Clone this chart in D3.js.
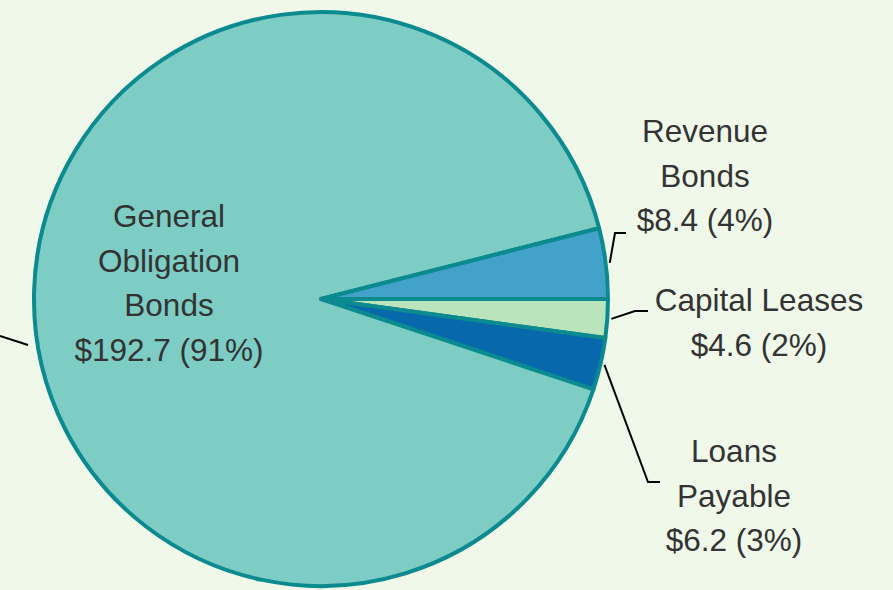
<!DOCTYPE html>
<html>
<head>
<meta charset="utf-8">
<script src="https://cdn.jsdelivr.net/npm/d3@7"></script>
<style>
  html, body { margin: 0; padding: 0; background: #f0f8ea; }
  svg { display: block; }
  text { font-family: "Liberation Sans", Arial, sans-serif; fill: #333333; }
</style>
</head>
<body>
<svg id="chart" width="893" height="590"></svg>
<script>
// ---- data ----
const categories = ["Capital Leases", "Loans Payable", "General Obligation Bonds", "Revenue Bonds"];
const values = [4.6, 6.2, 192.7, 8.4];
const percents = ["2%", "3%", "91%", "4%"];
const labelLines = [
  ["Capital Leases"],
  ["Loans", "Payable"],
  ["General", "Obligation", "Bonds"],
  ["Revenue", "Bonds"]
];
const colors = ["#bae4bc", "#0868ac", "#7dcdc5", "#43a2ca"];

// ---- layout (not data) ----
const W = 893, H = 590;
const cx = 321, cy = 299, R = 287;
// label anchor (center x, first baseline y) and leader elbow points
const labelLayout = [
  { x: 759, y: 311, elbow: [635, 311], end: [648, 311] },
  { x: 734, y: 462, elbow: [648, 482], end: [660, 482] },
  { x: 169, y: 227, elbow: null, end: null },
  { x: 705, y: 142, elbow: [615, 233], end: [626, 233] }
];

const svg = d3.select("#chart");
const g = svg.append("g").attr("transform", `translate(${cx},${cy})`);

const pie = d3.pie().sort(null).value(d => d)
  .startAngle(Math.PI / 2).endAngle(Math.PI / 2 + 2 * Math.PI);
const arcs = pie(values);
const arc = d3.arc().innerRadius(0).outerRadius(R);

g.selectAll("path.slice").data(arcs).enter().append("path")
  .attr("class", "slice")
  .attr("d", arc)
  .attr("fill", (d, i) => colors[i])
  .attr("stroke", "#0b8b8f")
  .attr("stroke-width", 4)
  .attr("stroke-linejoin", "round");

// leader lines
arcs.forEach((a, i) => {
  const L = labelLayout[i];
  if (!L.elbow) return;
  const mid = (a.startAngle + a.endAngle) / 2;
  const r2 = R + 4;
  const sx = cx + r2 * Math.sin(mid), sy = cy - r2 * Math.cos(mid);
  svg.append("polyline")
    .attr("points", [[sx, sy], L.elbow, L.end].map(p => p.join(",")).join(" "))
    .attr("fill", "none").attr("stroke", "#000").attr("stroke-width", 2);
});

// stray leader at left edge (from a cropped label)
svg.append("line").attr("x1", 0).attr("y1", 336).attr("x2", 28).attr("y2", 345)
  .attr("stroke", "#000").attr("stroke-width", 2);

// labels
arcs.forEach((a, i) => {
  const L = labelLayout[i];
  const lines = labelLines[i].concat([`$${values[i].toFixed(1)} (${percents[i]})`]);
  const t = svg.append("text")
    .attr("text-anchor", "middle")
    .attr("font-size", 31.5);
  lines.forEach((ln, k) => {
    t.append("tspan").attr("x", L.x).attr("y", L.y + k * 44.7).text(ln);
  });
});
</script>
</body>
</html>
